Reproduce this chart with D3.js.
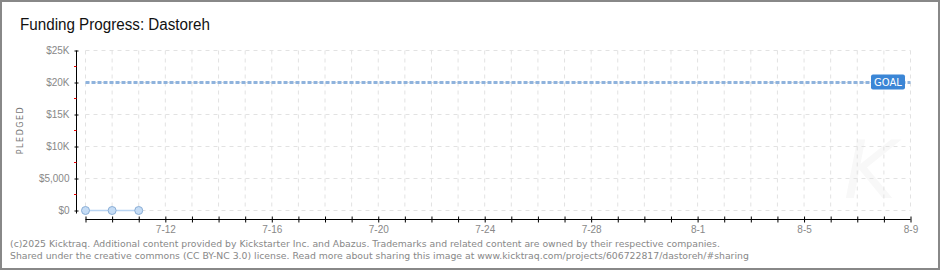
<!DOCTYPE html>
<html>
<head>
<meta charset="utf-8">
<script src="https://cdn.jsdelivr.net/npm/d3@7"></script>
<style>
  body { margin: 0; background: #fff; }
  svg { display: block; }
</style>
</head>
<body>
<div id="plot"></div>
<script>
// Chart data
const title = "Funding Progress: Dastoreh";
const pledgeDates = ["2025-07-09", "2025-07-10", "2025-07-11"];
const pledgeValues = [0, 0, 0];
const goal = 20000;
const dateStart = "2025-07-09";
const dateEnd = "2025-08-09";
const yTicks = [0, 5000, 10000, 15000, 20000, 25000];
const yTickLabels = ["$0", "$5,000", "$10K", "$15K", "$20K", "$25K"];
const footer = [
  "(c)2025 Kicktraq. Additional content provided by Kickstarter Inc. and Abazus. Trademarks and related content are owned by their respective companies.",
  "Shared under the creative commons (CC BY-NC 3.0) license. Read more about sharing this image at www.kicktraq.com/projects/606722817/dastoreh/#sharing"
];

const W = 940, H = 270;
const parse = d3.timeParse("%Y-%m-%d");
const fmt = d3.timeFormat("%-m-%-d");

const svg = d3.select("#plot")
  .append("svg")
  .attr("width", W)
  .attr("height", H)
  .style("font-family", "'DejaVu Sans', sans-serif");

// outer frame
svg.append("rect")
  .attr("x", 1).attr("y", 1)
  .attr("width", W - 2).attr("height", H - 2)
  .attr("fill", "#fff")
  .attr("stroke", "#888")
  .attr("stroke-width", 2);

// title
svg.append("text")
  .attr("x", 20).attr("y", 30)
  .style("font-family", "'Liberation Sans', sans-serif")
  .style("font-size", "16px")
  .attr("textLength", 190)
  .attr("lengthAdjust", "spacingAndGlyphs")
  .attr("fill", "#111")
  .text(title);

// scales
const x = d3.scaleTime()
  .domain([parse(dateStart), parse(dateEnd)])
  .range([85.5, 910.5]);

const y = d3.scaleLinear()
  .domain([0, 25000])
  .range([210.5, 50.5]);

const days = d3.timeDay.range(parse(dateStart), d3.timeDay.offset(parse(dateEnd), 1));

// faint watermark
svg.append("text")
  .attr("x", 870).attr("y", 198)
  .attr("text-anchor", "middle")
  .style("font-size", "80px")
  .style("font-style", "italic")
  .attr("fill", "#f8f8f8")
  .text("K");

// grid: horizontal
svg.append("g")
  .selectAll("line")
  .data(yTicks)
  .enter()
  .append("line")
  .attr("x1", x.range()[0]).attr("x2", x.range()[1])
  .attr("y1", d => y(d)).attr("y2", d => y(d))
  .attr("stroke", "#e2e2e2")
  .attr("stroke-dasharray", "4,4");

// grid: vertical
svg.append("g")
  .selectAll("line")
  .data(days)
  .enter()
  .append("line")
  .attr("x1", d => x(d)).attr("x2", d => x(d))
  .attr("y1", y(25000)).attr("y2", y(0))
  .attr("stroke", "#e2e2e2")
  .attr("stroke-dasharray", "4,4");

// y axis
const yAxis = svg.append("g")
  .attr("transform", "translate(76.5,0)")
  .call(d3.axisLeft(y)
    .tickValues(yTicks)
    .tickSize(2)
    .tickPadding(5)
    .tickFormat((d, i) => yTickLabels[i]));
yAxis.select(".domain").attr("d", `M0,${y(25000)}V${y(0) + 3}`).attr("stroke", "#000");
yAxis.selectAll(".tick line").attr("x1", 2).attr("x2", -2).attr("stroke", "#000");
yAxis.selectAll(".tick text")
  .style("font-size", "10px")
  .attr("fill", "#888");

// red minor ticks
svg.append("g")
  .selectAll("line")
  .data(yTicks.slice(1).map(d => d - 2500))
  .enter()
  .append("line")
  .attr("x1", 74).attr("x2", 76.5)
  .attr("y1", d => y(d)).attr("y2", d => y(d))
  .attr("stroke", "#e00");

// x axis
const labelDays = ["7-12", "7-16", "7-20", "7-24", "7-28", "8-1", "8-5", "8-9"];
const xAxis = svg.append("g")
  .attr("transform", "translate(0,219.5)")
  .call(d3.axisBottom(x)
    .tickValues(days)
    .tickSize(3)
    .tickPadding(3)
    .tickFormat(d => labelDays.includes(fmt(d)) ? fmt(d) : ""));
xAxis.select(".domain").attr("d", `M${x.range()[0]},0H${x.range()[1]}`).attr("stroke", "#000");
xAxis.selectAll(".tick line").attr("y1", -3).attr("y2", 3).attr("stroke", "#000");
xAxis.selectAll(".tick text")
  .style("font-size", "10px")
  .attr("fill", "#888");

// y axis title
svg.append("text")
  .attr("transform", `translate(23,${130}) rotate(-90)`)
  .attr("text-anchor", "middle")
  .style("font-size", "8px")
  .style("letter-spacing", "1.5px")
  .attr("fill", "#777")
  .text("PLEDGED");

// goal line
svg.append("line")
  .attr("x1", x.range()[0]).attr("x2", x.range()[1])
  .attr("y1", y(goal)).attr("y2", y(goal))
  .attr("stroke", "#8fb3dd")
  .attr("stroke-width", 3)
  .attr("stroke-dasharray", "4,2");

// goal label
const goalG = svg.append("g")
  .attr("transform", `translate(871,${y(goal) - 8})`);
goalG.append("rect")
  .attr("width", 34).attr("height", 15)
  .attr("rx", 2)
  .attr("fill", "#3b86d6");
goalG.append("text")
  .attr("x", 17).attr("y", 11)
  .attr("text-anchor", "middle")
  .style("font-size", "10px")
  .attr("fill", "#fff")
  .text("GOAL");

// pledged series
const pts = pledgeDates.map((d, i) => ({ date: parse(d), value: pledgeValues[i] }));
svg.append("path")
  .datum(pts)
  .attr("fill", "none")
  .attr("stroke", "#b9d4f2")
  .attr("stroke-width", 1.5)
  .attr("d", d3.line().x(d => x(d.date)).y(d => y(d.value)));

svg.selectAll(".pt")
  .data(pts)
  .enter()
  .append("circle")
  .attr("class", "pt")
  .attr("cx", d => x(d.date))
  .attr("cy", d => y(d.value))
  .attr("r", 4)
  .attr("fill", "#c5dcf5")
  .attr("stroke", "#8aaed6");

// footer
svg.append("g")
  .selectAll("text")
  .data(footer)
  .enter()
  .append("text")
  .attr("x", 10)
  .attr("y", (d, i) => 247 + i * 12)
  .style("font-size", "9.3px")
  .attr("fill", "#888")
  .text(d => d);
</script>
</body>
</html>
